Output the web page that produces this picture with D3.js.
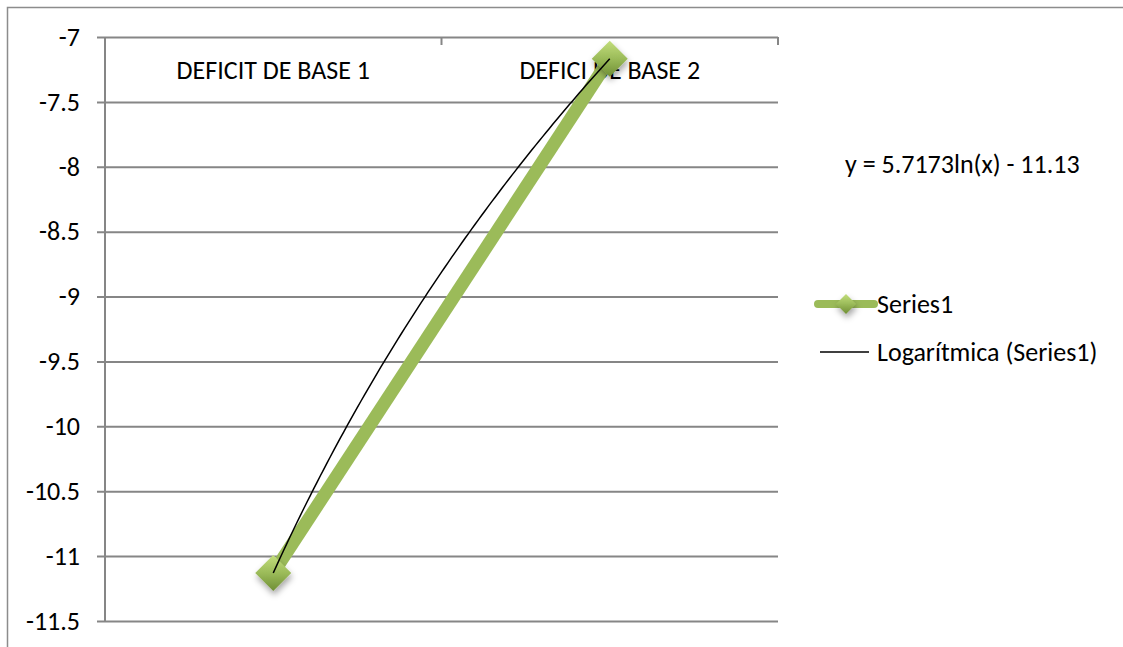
<!DOCTYPE html>
<html><head><meta charset="utf-8">
<script src="https://cdn.jsdelivr.net/npm/d3@7"></script>
<style>body{margin:0;background:#fff}svg{display:block}text{font-family:Carlito,Lato,"Open Sans",sans-serif;fill:#000}</style>
</head><body>
<svg id="c" width="1123" height="647"></svg>
<script>
const categories = ["DEFICIT DE BASE 1", "DEFICI DE BASE 2"];
const values = [-11.13, -7.167];
const yTicks = [-7, -7.5, -8, -8.5, -9, -9.5, -10, -10.5, -11, -11.5];
const trendCoef = [5.7173, -11.13];
const equationLabel = "y = 5.7173ln(x) - 11.13";
const legendLabels = ["Series1", "Logarítmica (Series1)"];

const svg = d3.select("#c");
const green = "#9bbb59";
const FS = 26;
const defs = svg.append("defs");
const g1 = defs.append("linearGradient").attr("id","dg").attr("x1",0).attr("y1",0).attr("x2",0).attr("y2",1);
g1.append("stop").attr("offset","0%").attr("stop-color","#c3de7c");
g1.append("stop").attr("offset","50%").attr("stop-color","#9bbb59");
g1.append("stop").attr("offset","100%").attr("stop-color","#6f8e35");
const f = defs.append("filter").attr("id","sh").attr("x","-50%").attr("y","-50%").attr("width","200%").attr("height","200%");
f.append("feDropShadow").attr("dx",1).attr("dy",4).attr("stdDeviation",3).attr("flood-color","#000").attr("flood-opacity",0.35);

// outer frame
svg.append("path").attr("d","M7.5,647 V7.5 H1123").attr("fill","none").attr("stroke","#8c8c8c").attr("stroke-width",1.5);

const L=105, R=778, T=37, B=621;
const y = d3.scaleLinear().domain([-11.5,-7]).range([B,T]);
const x = d3.scaleBand().domain(categories).range([L,R]);
const xc = d => x(d)+x.bandwidth()/2;
const xn = d3.scaleLinear().domain([1,2]).range([xc(categories[0]), xc(categories[1])]);

// gridlines + y axis
const ya = svg.append("g").attr("transform",`translate(${L},0)`)
  .call(d3.axisLeft(y).tickValues(yTicks).tickSize(8).tickPadding(17).tickFormat(d=>String(d)));
ya.select(".domain").attr("stroke","#868686").attr("stroke-width",2).attr("d",`M0,${T}V${B}`);
ya.selectAll(".tick line").attr("stroke","#868686").attr("stroke-width",2).attr("x2",-8).attr("x1",R-L);
ya.selectAll(".tick text").attr("font-size",FS).attr("fill","#000").attr("font-family","Carlito,Lato,sans-serif");

// category axis on top (crosses at -7)
const xa = svg.append("g").attr("transform",`translate(0,${T})`)
  .call(d3.axisBottom(x).tickSize(0).tickPadding(24));
xa.select(".domain").remove();
xa.selectAll(".tick text").attr("font-size",FS).attr("fill","#000").attr("font-family","Carlito,Lato,sans-serif");
const edges = [L, L+x.bandwidth(), R];
svg.append("g").selectAll("line").data(edges).join("line")
  .attr("x1",d=>d).attr("x2",d=>d).attr("y1",T).attr("y2",T+8)
  .attr("stroke","#868686").attr("stroke-width",2);

// series line
svg.append("path").datum(values)
  .attr("d", d3.line().x((d,i)=>xc(categories[i])).y(d=>y(d)))
  .attr("fill","none").attr("stroke",green).attr("stroke-width",13);

// markers
const diamond = "M0,-18 L18,0 L0,18 L-18,0 Z";
svg.append("g").selectAll("path").data(values).join("path")
  .attr("transform",(d,i)=>`translate(${xc(categories[i])},${y(d)})`)
  .attr("d",diamond).attr("fill","url(#dg)").attr("filter","url(#sh)");

// trendline
const xs = d3.range(0,101).map(i=>1+i/100);
svg.append("path").datum(xs)
  .attr("d", d3.line().x(d=>xn(d)).y(d=>y(trendCoef[0]*Math.log(d)+trendCoef[1])))
  .attr("fill","none").attr("stroke","#000").attr("stroke-width",1.5);

// equation
svg.append("text").attr("x",845).attr("y",173).attr("font-size",FS).text(equationLabel);

// legend
const lg = svg.append("g");
lg.append("line").attr("x1",818).attr("x2",874).attr("y1",304).attr("y2",304)
  .attr("stroke",green).attr("stroke-width",8).attr("stroke-linecap","round");
lg.append("path").attr("transform","translate(846,304)").attr("d","M0,-10 L10,0 L0,10 L-10,0 Z")
  .attr("fill","url(#dg)").attr("filter","url(#sh)");
lg.append("text").attr("x",877).attr("y",313).attr("font-size",FS).text(legendLabels[0]);
lg.append("line").attr("x1",820).attr("x2",869).attr("y1",352).attr("y2",352).attr("stroke","#000").attr("stroke-width",1.5);
lg.append("text").attr("x",877).attr("y",361).attr("font-size",FS).text(legendLabels[1]);
</script>
</body></html>
